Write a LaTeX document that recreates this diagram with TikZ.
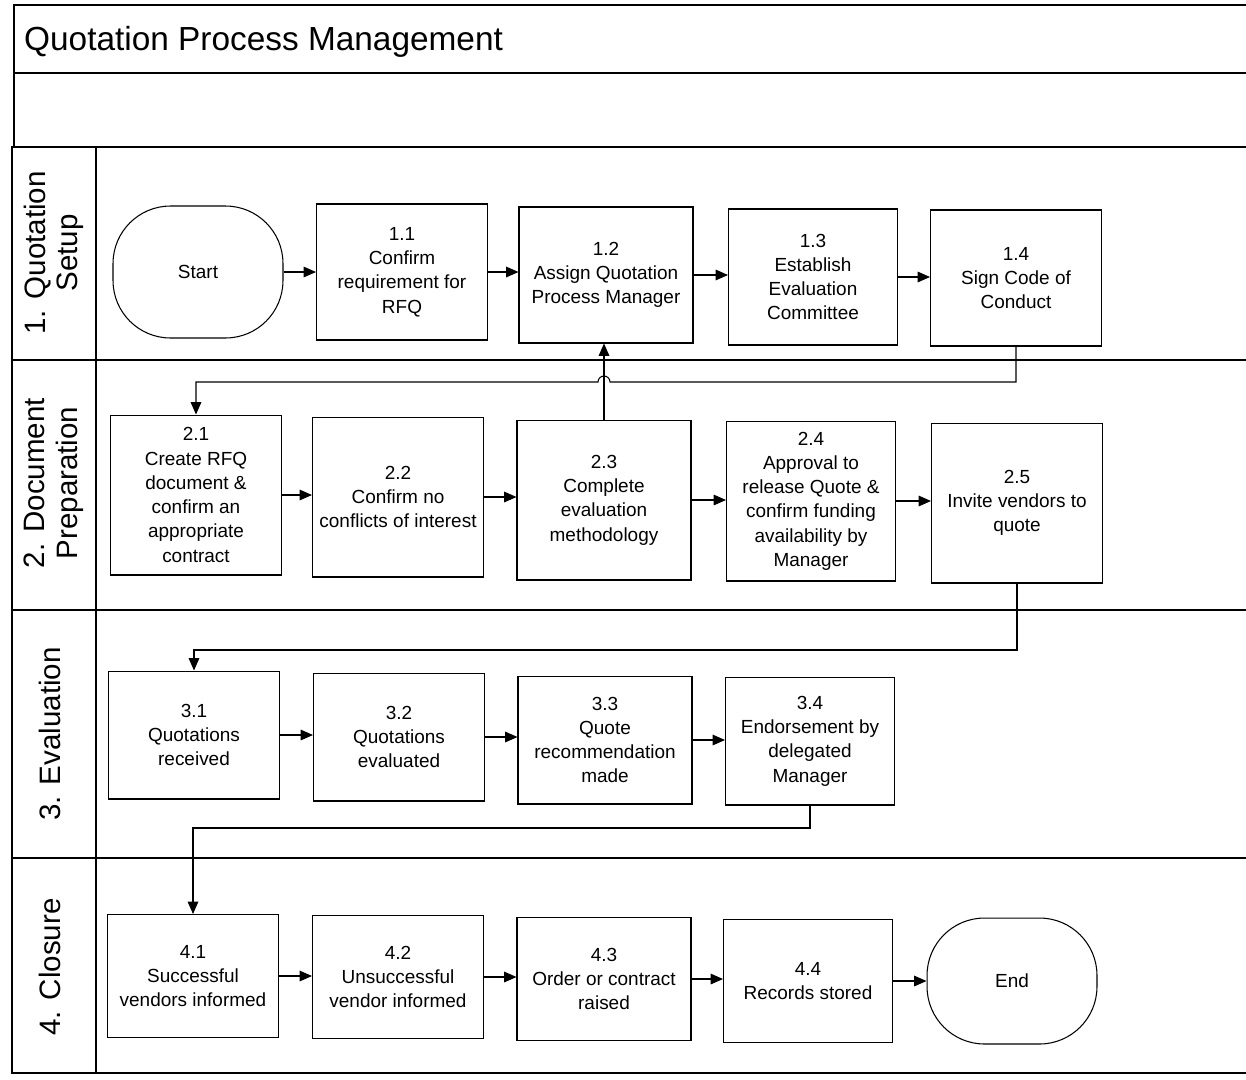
\documentclass[tikz,border=0pt]{standalone}
\usepackage{fontspec}
\setmainfont{Liberation Sans}
\usetikzlibrary{arrows.meta}
\tikzset{
  procbox/.style={draw, line width=0.6pt, align=center, inner sep=2pt, minimum width=3.42cm, font=\fontsize{10.8}{13.8}\selectfont},
  rowa/.style={procbox, minimum height=2.72cm},
  rowb/.style={procbox, minimum height=3.2cm},
  rowc/.style={procbox, minimum height=2.56cm},
  rowd/.style={procbox, minimum height=2.46cm},
  terminal/.style={draw, line width=0.6pt, rounded corners=1.15cm, minimum width=3.4cm, font=\fontsize{10.8}{13.8}\selectfont},
  flow/.style={line width=0.6pt, -{Triangle[length=7pt,width=6pt]}},
  lanelabel/.style={rotate=90, align=center, font=\fontsize{16.8}{18.5}\selectfont},
  rule/.style={line width=0.7pt}
}
\begin{document}
\begin{tikzpicture}[x=0.02cm,y=-0.02cm]
  \useasboundingbox (0,0) rectangle (1246,1079);
  %% frame and lanes
  \draw[rule] (1246,5) -- (14,5) -- (14,147);
  \draw[rule] (14,73) -- (1246,73);
  \draw[rule] (1246,147) -- (12,147) -- (12,1073) -- (1246,1073);
  \draw[rule] (96,147) -- (96,1073);
  \foreach \ly in {360,610,858}
    \draw[rule] (12,\ly) -- (1246,\ly);
  \node[anchor=west, font=\fontsize{19}{22}\selectfont] (title) at (18,42) {Quotation Process Management};
  \node[lanelabel] (lane1) at (54,253) {1. Quotation\\Setup};
  \node[lanelabel] (lane2) at (54,483) {2. Document\\Preparation};
  \node[lanelabel] (lane3) at (50,734) {3. Evaluation};
  \node[lanelabel] (lane4) at (50,967) {4. Closure};
  %% lane 1
  \node[terminal, minimum height=2.64cm] (start) at (198,272) {Start};
  \node[rowa] (s11) at (402,272) {1.1\\Confirm\\requirement for\\RFQ};
  \node[rowa, minimum width=3.48cm] (s12) at (606,275) {1.2\\Assign Quotation\\Process Manager};
  \node[rowa, minimum width=3.38cm] (s13) at (813,277) {1.3\\Establish\\Evaluation\\Committee};
  \node[rowa] (s14) at (1016,278) {1.4\\Sign Code of\\Conduct};
  %% lane 2
  \node[rowb] (s21) at (196,495) {2.1\\Create RFQ\\document \&\\confirm an\\appropriate\\contract};
  \node[rowb] (s22) at (398,497) {2.2\\Confirm no\\conflicts of interest};
  \node[rowb, minimum width=3.48cm] (s23) at (604,500) {2.3\\Complete\\evaluation\\methodology};
  \node[rowb, minimum width=3.38cm] (s24) at (811,501) {2.4\\Approval to\\release Quote \&\\confirm funding\\availability by\\Manager};
  \node[rowb] (s25) at (1017,503) {2.5\\Invite vendors to\\quote};
  %% lane 3
  \node[rowc] (s31) at (194,735) {3.1\\Quotations\\received};
  \node[rowc] (s32) at (399,737) {3.2\\Quotations\\evaluated};
  \node[rowc, minimum width=3.48cm] (s33) at (605,740) {3.3\\Quote\\recommendation\\made};
  \node[rowc, minimum width=3.38cm] (s34) at (810,741) {3.4\\Endorsement by\\delegated\\Manager};
  %% lane 4
  \node[rowd] (s41) at (193,976) {4.1\\Successful\\vendors informed};
  \node[rowd] (s42) at (398,977) {4.2\\Unsuccessful\\vendor informed};
  \node[rowd, minimum width=3.48cm] (s43) at (604,979) {4.3\\Order or contract\\raised};
  \node[rowd, minimum width=3.38cm] (s44) at (808,981) {4.4\\Records stored};
  \node[terminal, minimum height=2.52cm] (end) at (1012,981) {End};
  %% flows
  \draw[flow] (start) -- (s11);
  \draw[flow] (s11) -- (s11 -| s12.west);
  \draw[flow] (s12) -- (s12 -| s13.west);
  \draw[flow] (s13) -- (s13 -| s14.west);
  \draw[flow] (s14.south) -- (s14.south |- 0,382) -- (610,382) arc[start angle=0,end angle=180,radius=0.12cm] -- (s21.north |- 0,382) -- (s21.north);
  \draw[flow] (s21) -- (s21 -| s22.west);
  \draw[flow] (s22) -- (s22 -| s23.west);
  \draw[flow] (s23.north) -- (s23.north |- s12.south);
  \draw[flow] (s23) -- (s23 -| s24.west);
  \draw[flow] (s24) -- (s24 -| s25.west);
  \draw[flow] (s25.south) -- (s25.south |- 0,650) -- (s31.north |- 0,650) -- (s31.north);
  \draw[flow] (s31) -- (s31 -| s32.west);
  \draw[flow] (s32) -- (s32 -| s33.west);
  \draw[flow] (s33) -- (s33 -| s34.west);
  \draw[flow] (s34.south) -- (s34.south |- 0,828) -- (s41.north |- 0,828) -- (s41.north);
  \draw[flow] (s41) -- (s41 -| s42.west);
  \draw[flow] (s42) -- (s42 -| s43.west);
  \draw[flow] (s43) -- (s43 -| s44.west);
  \draw[flow] (s44) -- (end);
\end{tikzpicture}
\end{document}
